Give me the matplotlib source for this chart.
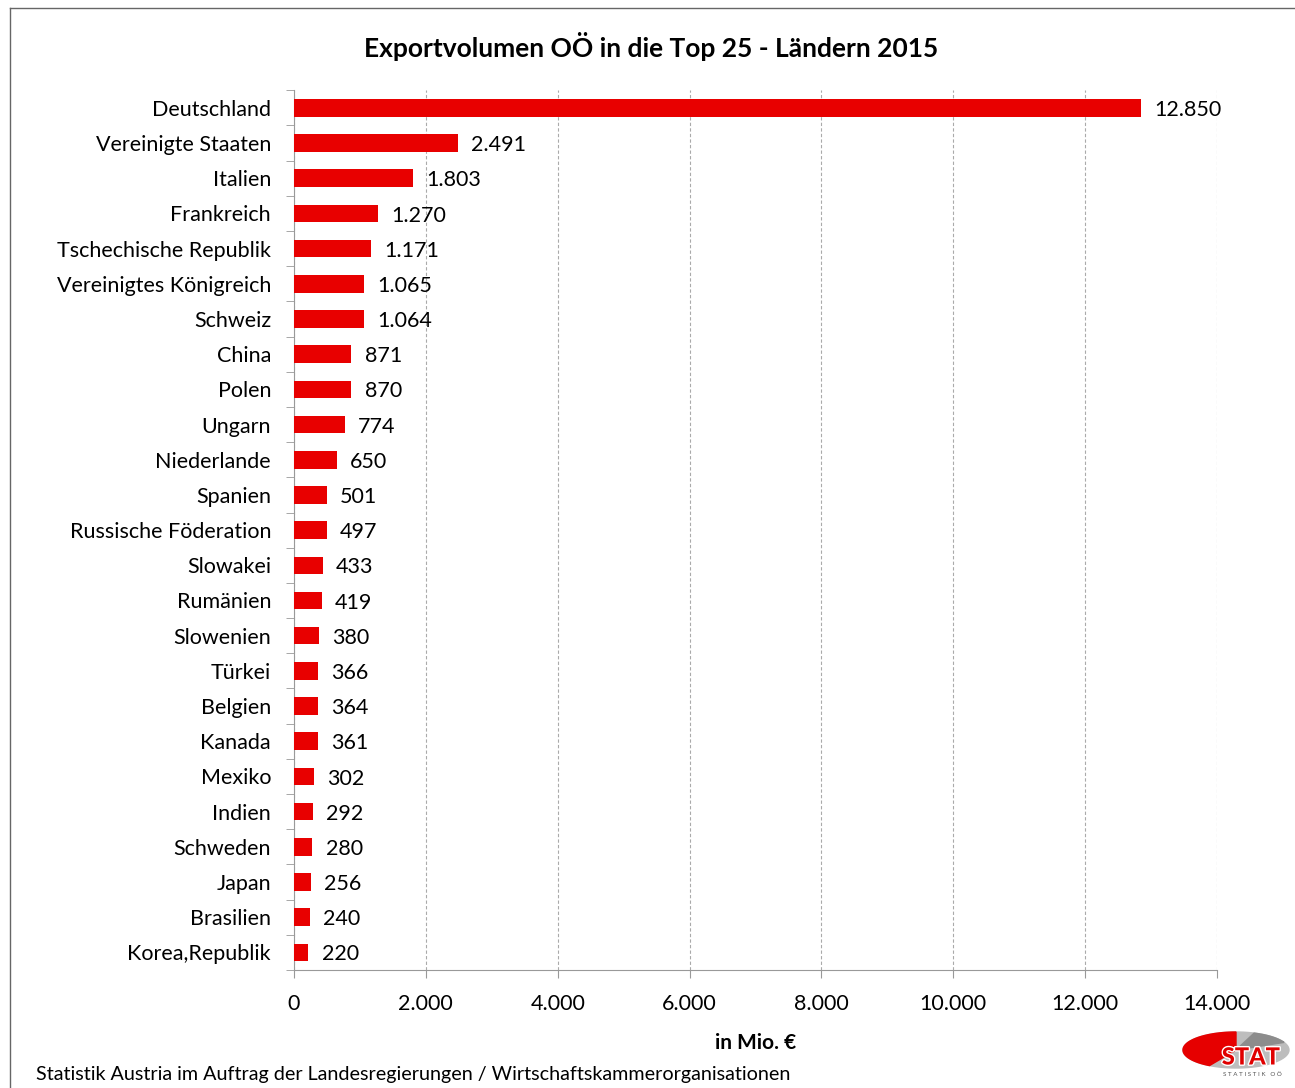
import matplotlib
matplotlib.use("Agg")
import numpy as np
import matplotlib.pyplot as plt
from matplotlib.patches import Polygon
from matplotlib.ticker import FuncFormatter, MultipleLocator
import matplotlib.patheffects as pe

plt.rcParams['font.family'] = ['Lato', 'DejaVu Sans']

countries = ["Deutschland", "Vereinigte Staaten", "Italien", "Frankreich",
             "Tschechische Republik", "Vereinigtes Königreich", "Schweiz", "China",
             "Polen", "Ungarn", "Niederlande", "Spanien", "Russische Föderation",
             "Slowakei", "Rumänien", "Slowenien", "Türkei", "Belgien", "Kanada",
             "Mexiko", "Indien", "Schweden", "Japan", "Brasilien", "Korea,Republik"]
values = [12850, 2491, 1803, 1270, 1171, 1065, 1064, 871, 870, 774, 650, 501, 497,
          433, 419, 380, 366, 364, 361, 302, 292, 280, 256, 240, 220]
title = "Exportvolumen OÖ in die Top 25 - Ländern 2015"
xlabel = "in Mio. €"
footer = "Statistik Austria im Auftrag der Landesregierungen / Wirtschaftskammerorganisationen"

def fmt(v, pos=None):
    return f"{int(v):,}".replace(",", ".")

fig = plt.figure(figsize=(12.95, 10.88), dpi=100)
ax = fig.add_axes([0.227, 0.1085, 0.7128, 0.8085])

n = len(countries)
ypos = list(range(n))
ax.barh(ypos, values, height=0.5, color="#E80000", zorder=3)
for y, v in zip(ypos, values):
    ax.text(v + 200, y + 0.06, fmt(v), va="center", ha="left", fontsize=15.5, zorder=4)

ax.set_ylim(n - 0.5, -0.5)
ax.set_xlim(0, 14000)
ax.xaxis.set_major_locator(MultipleLocator(2000))
ax.xaxis.set_major_formatter(FuncFormatter(fmt))
ax.set_yticks(ypos)
ax.set_yticklabels(countries, fontsize=15.5)
ax.set_yticks([i - 0.5 for i in range(n + 1)], minor=True)
ax.tick_params(axis='y', which='major', length=0, pad=16.5)
ax.tick_params(axis='y', which='minor', length=6, color="#999999")
ax.tick_params(axis='x', which='major', length=6, color="#999999", labelsize=15.5, pad=11)
ax.grid(axis='x', linestyle=(0, (3, 2)), color="#AAAAAA", linewidth=0.8, zorder=0)
for s in ["top", "right"]:
    ax.spines[s].set_visible(False)
ax.spines["left"].set_color("#999999")
ax.spines["bottom"].set_color("#999999")
ax.set_xlabel(xlabel, fontsize=15, fontweight="bold", labelpad=14)

fig.text(0.503, 0.957, title, ha="center", va="center", fontsize=19, fontweight="bold")
fig.text(0.028, 0.012, footer, ha="left", va="center", fontsize=14.2)

# figure frame (top and left)
fig.add_artist(plt.Line2D([0.008, 1.0], [0.9925, 0.9925], color="#666666", linewidth=1))
fig.add_artist(plt.Line2D([0.008, 0.008], [0.0, 0.9925], color="#666666", linewidth=1))

# logo (axes in pixel coordinates of the figure region)
lax = fig.add_axes([1178 / 1295, 2 / 1088, 116 / 1295, 60 / 1088])
lax.set_xlim(1178, 1294)
lax.set_ylim(1088, 1028)
lax.axis("off")
cx, cy, rx, ry = 1236, 1052, 53, 18

def ell(a0, a1, center=True):
    t = np.radians(np.linspace(a0, a1, 80))
    p = np.c_[cx + rx * np.cos(t), cy - ry * np.sin(t)]
    return np.vstack([[cx, cy], p]) if center else p

lax.add_patch(Polygon(ell(0, 360, False), closed=True, color="#BDBDBD"))
lax.add_patch(Polygon(ell(25, 70), closed=True, color="#8C8C8C"))
lax.add_patch(Polygon(ell(90, 240), closed=True, color="#E60000"))
lax.text(1251, 1059, "STAT", ha="center", va="center", fontsize=17, fontweight="black",
         color="#E00000", path_effects=[pe.withStroke(linewidth=2, foreground="white")])
lax.text(1252, 1077, "S T A T I S T I K   O Ö", ha="center", va="center", fontsize=4.5,
         color="#555555")

fig.savefig("out.png", dpi=100)
